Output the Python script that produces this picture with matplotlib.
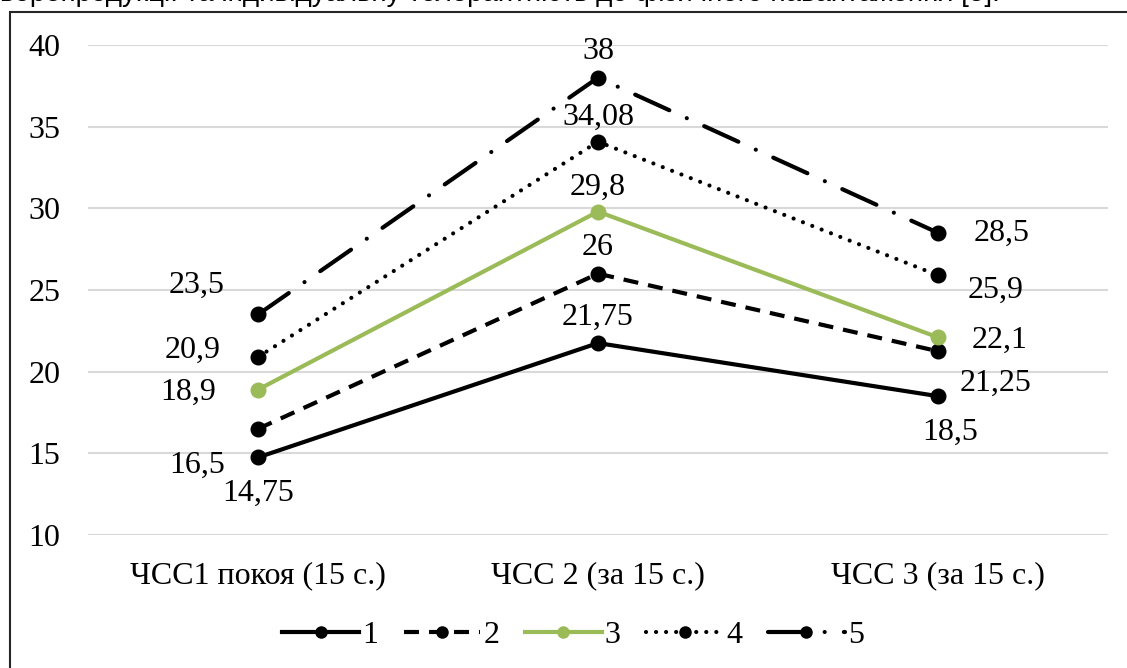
import matplotlib.pyplot as plt
from matplotlib.lines import Line2D
from matplotlib.patches import Rectangle

# ---- data ----
categories = ['ЧСС1 покоя (15 с.)', 'ЧСС 2 (за 15 с.)', 'ЧСС 3 (за 15 с.)']
series_names = ['1', '2', '3', '4', '5']
s1 = [14.75, 21.75, 18.5]
s2 = [16.5, 26, 21.25]
s3 = [18.9, 29.8, 22.1]
s4 = [20.9, 34.08, 25.9]
s5 = [23.5, 38, 28.5]
series = [s1, s2, s3, s4, s5]

# labels as they stand in the source (text shifted relative to points)
label_text = [['14,75', '21,75', '18,5'],
              ['16,5', '26', '21,25'],
              ['18,9', '29,8', '22,1'],
              ['20,9', '34,08', '25,9'],
              ['23,5', '38', '28,5']]
# label offsets in pixels (dx, dy)
label_off = [[(0, -36), (0, 26), (12, -36)],
             [(-61, -36), (0, 26), (58, -32)],
             [(-70, -3), (0, 24), (62, -3)],
             [(-65, 7), (0, 24), (58, -15)],
             [(-61, 29), (0, 26), (64, 0)]]

top_text = 'ворепродукції та індивідуальну толерантність до фізичного навантаження [5].'

# ---- style ----
green = '#9BBB59'
lw = 3
fs = 23
styles = [
    dict(color='black', linestyle='-'),
    dict(color='black', linestyle=(0, (3.6, 2.4))),
    dict(color=green, linestyle='-'),
    dict(color='black', linestyle=(0, (0.01, 2.4)), dash_capstyle='round'),
    dict(color='black', linestyle=(0, (9.0, 4.6, 0.01, 4.6)), dash_capstyle='round'),
]

plt.rcParams['font.family'] = ['Liberation Serif', 'DejaVu Serif']

W, H = 1127, 668
fig = plt.figure(figsize=(W / 100, H / 100), dpi=100)
ax = fig.add_axes([88 / W, (H - 535) / H, 1020 / W, 490 / H])

x = list(range(len(categories)))
for i, ys in enumerate(series):
    ax.plot(x, ys, linewidth=lw, marker='o', markersize=10.5, zorder=3, **styles[i])
    for j, y in enumerate(ys):
        ax.annotate(label_text[i][j], (x[j], y), xytext=label_off[i][j],
                    textcoords='offset pixels', ha='center', va='center',
                    fontsize=fs, color='black', zorder=4)

ax.set_xlim(-0.5, 2.5)
ax.set_ylim(10, 40)
ax.set_yticks(range(10, 41, 5))
ax.set_xticks(x)
ax.set_xticklabels(categories)
ax.tick_params(axis='both', length=0, labelsize=fs)
ax.tick_params(axis='y', pad=20)
ax.tick_params(axis='x', pad=19)
ax.grid(axis='y', color='#D9D9D9', linewidth=1.5)
ax.set_axisbelow(True)
for sp in ax.spines.values():
    sp.set_visible(False)

# legend
handles = []
for i in range(len(series)):
    st = dict(styles[i])
    handles.append(Line2D([], [], linewidth=lw, marker='o', markersize=8, **st))
fig.legend(handles, series_names, loc='center', bbox_to_anchor=(573 / W, (H - 635) / H),
           ncol=5, frameon=False, fontsize=fs, handlelength=2.4, handletextpad=0.1,
           columnspacing=0.8)

# chart border
fig.patches.append(Rectangle((10 / W, -0.1), 1.2, (H - 12) / H + 0.1, transform=fig.transFigure,
                             fill=False, edgecolor='#262626', linewidth=1.5))

# clipped text line above the chart
fig.text(0, 1 + 6 / H, top_text, fontsize=20, family='Liberation Sans', ha='left', va='center')

fig.savefig('out.png', dpi=100)
